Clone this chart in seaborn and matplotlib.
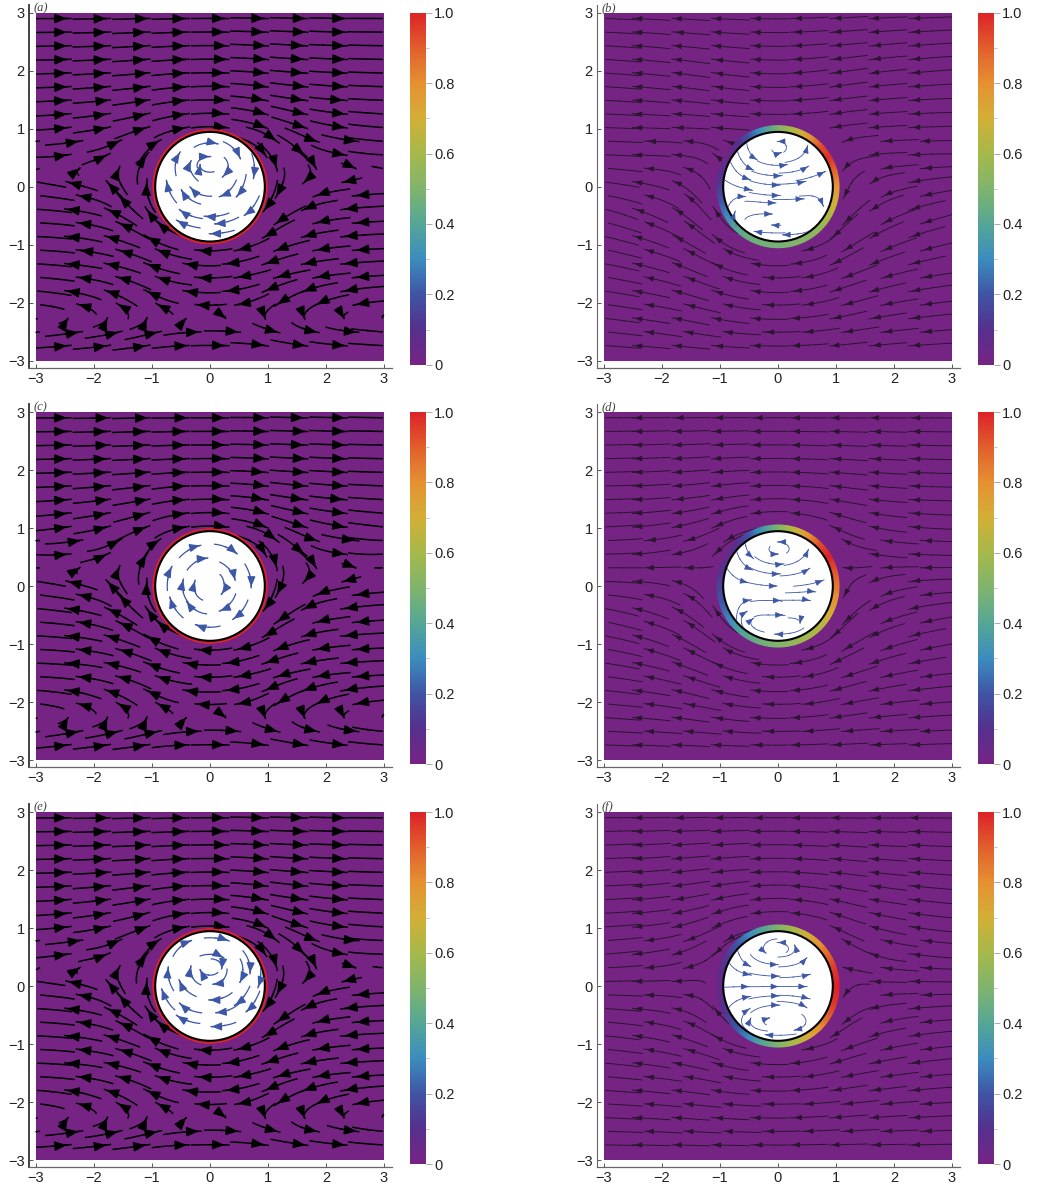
import numpy as np
import matplotlib
matplotlib.use("Agg")
import matplotlib.pyplot as plt
from matplotlib.colors import LinearSegmentedColormap
from matplotlib.patches import Circle
import seaborn as sns

# flow directions in degrees
# rows go from y=3 down to y=-3, columns from x=-3 to x=3, step 0.5
outer_a = [
    [0, 0, 1, 1, 1, 1, 0, -1, -1, -1, -1, 0, 0],
    [1, 1, 2, 3, 3, 2, 0, -2, -3, -3, -2, -1, -1],
    [1, 2, 3, 4, 5, 3, 0, -3, -5, -4, -3, -2, -1],
    [2, 3, 5, 7, 9, 6, 0, -6, -10, -8, -5, -3, -2],
    [3, 6, 9, 14, 18, 12, 0, -12, -22, -20, -12, -7, -4],
    [0, 8, 15, 45, 60, 30, 0, -30, -60, -50, -15, -8, -2],
    [172, 170, 162, 120, 85, 80, 0, -80, -95, -140, 192, 186, 183],
    [178, 174, 168, 150, 130, 150, 180, 210, 225, 205, 190, 185, 182],
    [178, 175, 170, 162, 155, 165, 180, 195, 205, 195, 188, 184, 182],
    [176, 174, 172, 165, 160, 170, 180, 190, 195, 192, 187, 185, 183],
    [175, 170, 160, 150, 150, 170, 180, 190, 210, 210, 200, 190, 185],
    [5, 8, 10, 15, 15, 5, 0, -5, -15, -15, -10, -5, -5],
    [2, 2, 3, 2, 1, 0, 0, 0, -1, -1, -2, -2, -2],
]
outer_c = [
    [0, 0, 1, 1, 1, 0, 0, 0, -1, -1, -1, -1, -1],
    [1, 1, 2, 2, 2, 1, 0, -1, -2, -2, -2, -1, -1],
    [1, 2, 3, 3, 4, 2, 0, -2, -4, -3, -3, -2, -1],
    [3, 4, 6, 8, 10, 5, 0, -5, -10, -8, -6, -4, -3],
    [6, 8, 12, 18, 22, 12, 0, -12, -22, -20, -12, -8, -6],
    [-5, 5, 12, 45, 65, 30, 0, -30, -65, -50, -12, -5, 5],
    [172, 170, 162, 120, 85, 80, 0, -80, -95, -135, 195, 188, 184],
    [176, 173, 167, 150, 130, 150, 180, 210, 225, 207, 190, 186, 183],
    [178, 175, 170, 162, 155, 165, 180, 195, 205, 195, 188, 184, 182],
    [178, 176, 172, 166, 160, 170, 180, 190, 196, 192, 187, 184, 182],
    [175, 170, 160, 150, 150, 170, 180, 190, 210, 210, 200, 190, 185],
    [8, 10, 12, 15, 15, 5, 0, -5, -15, -15, -12, -8, -5],
    [3, 3, 3, 2, 1, 0, 0, 0, -1, -2, -3, -3, -3],
]
outer_e = [
    [0, 0, 1, 1, 1, 1, 0, -1, -1, -1, -1, 0, 0],
    [1, 1, 2, 2, 3, 2, 0, -2, -3, -2, -2, -1, -1],
    [1, 2, 3, 4, 5, 3, 0, -3, -5, -4, -3, -2, -1],
    [2, 4, 6, 8, 10, 6, 0, -6, -10, -8, -6, -3, -2],
    [4, 6, 10, 15, 22, 12, 0, -12, -25, -20, -10, -5, -3],
    [5, 8, 10, 40, 60, 30, 0, -30, -60, -55, -20, -5, 0],
    [174, 172, 162, 115, 85, 80, 0, -80, -95, -135, 195, 186, 183],
    [178, 174, 168, 150, 130, 150, 180, 210, 225, 207, 190, 185, 182],
    [178, 175, 170, 162, 155, 165, 180, 195, 205, 195, 188, 184, 182],
    [178, 176, 172, 166, 160, 170, 180, 190, 196, 192, 187, 184, 182],
    [175, 170, 160, 150, 150, 170, 180, 190, 210, 210, 200, 190, 185],
    [5, 8, 10, 15, 15, 5, 0, -5, -15, -15, -10, -8, -5],
    [2, 2, 3, 2, 1, 0, 0, 0, -1, -1, -2, -2, -2],
]
outer_b = [
    [178, 178, 177, 177, 178, 178, 180, 182, 183, 183, 182, 182, 182],
    [177, 176, 175, 175, 175, 177, 180, 183, 185, 185, 185, 184, 183],
    [176, 175, 174, 172, 172, 175, 180, 185, 188, 188, 186, 185, 184],
    [177, 176, 175, 174, 172, 176, 180, 184, 188, 186, 184, 183, 182],
    [178, 178, 178, 178, 175, 178, 180, 183, 190, 185, 183, 182, 181],
    [178, 177, 178, 170, 135, 150, 180, 210, 225, 190, 182, 182, 180],
    [172, 170, 165, 140, 100, 120, 180, 240, 260, 225, 195, 190, 188],
    [165, 160, 155, 140, 125, 140, 180, 220, 235, 215, 205, 198, 195],
    [168, 165, 160, 150, 145, 165, 180, 195, 215, 210, 202, 197, 193],
    [170, 168, 165, 158, 158, 170, 180, 190, 202, 200, 195, 190, 188],
    [172, 171, 170, 165, 165, 172, 180, 188, 195, 195, 190, 188, 186],
    [174, 173, 172, 170, 172, 176, 180, 184, 188, 188, 186, 185, 184],
    [178, 178, 177, 177, 178, 179, 180, 181, 182, 183, 183, 182, 182],
]
outer_d = [
    [180, 180, 180, 180, 180, 180, 180, 180, 180, 180, 180, 180, 180],
    [181, 181, 182, 182, 182, 181, 180, 179, 178, 178, 178, 179, 179],
    [181, 182, 183, 184, 184, 182, 180, 178, 176, 176, 177, 178, 179],
    [181, 182, 184, 187, 190, 185, 180, 175, 170, 173, 176, 178, 179],
    [182, 184, 188, 195, 205, 195, 180, 165, 155, 165, 172, 176, 178],
    [180, 183, 188, 195, 230, 210, 180, 150, 130, 170, 175, 178, 179],
    [178, 175, 170, 150, 100, 120, 180, 240, 260, 215, 195, 185, 182],
    [168, 165, 160, 145, 125, 140, 180, 220, 235, 215, 198, 192, 188],
    [170, 166, 160, 150, 145, 165, 180, 195, 215, 208, 198, 193, 190],
    [173, 170, 167, 160, 160, 170, 180, 190, 200, 197, 192, 188, 186],
    [175, 174, 172, 168, 168, 174, 180, 186, 192, 190, 187, 185, 184],
    [177, 177, 176, 175, 175, 177, 180, 183, 185, 184, 183, 183, 182],
    [179, 179, 179, 179, 179, 180, 180, 180, 181, 181, 181, 181, 181],
]
outer_f = [
    [180, 180, 180, 180, 180, 180, 180, 180, 180, 180, 180, 180, 180],
    [182, 182, 183, 183, 183, 182, 180, 178, 177, 177, 178, 178, 178],
    [182, 183, 185, 186, 186, 183, 180, 177, 174, 174, 175, 176, 177],
    [182, 184, 186, 190, 193, 187, 180, 173, 167, 170, 172, 174, 175],
    [183, 185, 188, 198, 205, 192, 180, 168, 155, 162, 168, 172, 175],
    [184, 186, 190, 205, 230, 210, 180, 150, 130, 155, 170, 174, 176],
    [180, 180, 180, 180, 100, 120, 180, 240, 260, 180, 180, 180, 180],
    [176, 174, 170, 155, 130, 150, 180, 210, 230, 205, 190, 186, 184],
    [175, 172, 168, 162, 155, 168, 180, 192, 205, 198, 192, 188, 185],
    [175, 174, 172, 170, 167, 173, 180, 187, 193, 190, 188, 186, 185],
    [177, 176, 175, 174, 174, 177, 180, 183, 186, 186, 185, 184, 183],
    [178, 178, 177, 177, 177, 178, 180, 182, 183, 183, 182, 182, 182],
    [180, 180, 180, 180, 180, 180, 180, 180, 180, 180, 180, 180, 180],
]

# inside the disc: rows y=1 down to y=-1, columns x=-1 to x=1, step 0.25
inner_a = [
    [55, 45, 30, 15, 0, -15, -30, -45, -55],
    [65, 60, 45, 25, 0, -25, -45, -60, -65],
    [80, 75, 65, 45, 0, -45, -65, -75, -80],
    [95, 95, 100, 125, 180, -125, -100, -95, -95],
    [105, 105, 115, 140, 180, -140, -115, -105, -105],
    [115, 120, 135, 155, 180, -155, -135, -120, -115],
    [130, 135, 150, 165, 180, -165, -150, -135, -130],
    [145, 150, 160, 170, 180, -170, -160, -150, -145],
    [160, 165, 170, 175, 180, -175, -170, -165, -160],
]
inner_c = [
    [45, 37, 27, 14, 0, -14, -27, -37, -45],
    [53, 45, 34, 18, 0, -18, -34, -45, -53],
    [63, 56, 45, 27, 0, -27, -45, -56, -63],
    [76, 72, 63, 45, 0, -45, -63, -72, -76],
    [90, 90, 90, 90, 180, -90, -90, -90, -90],
    [104, 108, 117, 135, 180, -135, -117, -108, -104],
    [117, 124, 135, 153, 180, -153, -135, -124, -117],
    [127, 135, 146, 162, 180, -162, -146, -135, -127],
    [135, 143, 153, 166, 180, -166, -153, -143, -135],
]
inner_e = [
    [40, 30, 20, 10, 0, -10, -20, -30, -40],
    [60, 50, 35, 15, 0, -15, -35, -50, -60],
    [75, 70, 55, 30, 0, -30, -55, -70, -75],
    [90, 90, 95, 100, 180, -100, -95, -90, -90],
    [105, 110, 125, 150, 180, -150, -125, -110, -105],
    [115, 120, 135, 160, 180, -160, -135, -120, -115],
    [130, 135, 150, 168, 180, -168, -150, -135, -130],
    [145, 150, 160, 172, 180, -172, -160, -150, -145],
    [160, 165, 170, 175, 180, -175, -170, -165, -160],
]
inner_b = [
    [180, 180, 180, 180, 180, 180, 180, 180, 180],
    [-90, -90, -80, -100, 180, 90, 80, 80, 80],
    [-70, -70, -50, -20, 0, 20, 45, 70, 70],
    [-60, -50, -25, -10, 0, 10, 20, 25, 25],
    [-20, -20, -15, -8, 0, 5, 8, 10, 15],
    [70, 40, -5, -5, 0, 2, 0, -60, -80],
    [85, 85, 20, 0, 0, 0, -20, -80, -85],
    [110, 130, 165, 175, 180, 185, 200, 235, 250],
    [180, 180, 180, 180, 180, 180, 180, 180, 180],
]
inner_d = [
    [180, 180, 180, 180, 180, 180, 180, 180, 180],
    [-90, -90, -80, -130, 180, 130, 80, 80, 80],
    [-70, -70, -50, -25, 0, 25, 50, 75, 75],
    [-60, -50, -25, -12, 0, 12, 25, 35, 35],
    [-15, -15, -10, -6, 0, 5, 8, 12, 15],
    [90, 70, 10, 0, 0, 0, 0, -70, -90],
    [90, 90, 30, 0, 0, 0, -20, -70, -90],
    [110, 120, 140, 165, 180, 195, 220, 240, 250],
    [180, 180, 180, 180, 180, 180, 180, 180, 180],
]
inner_f = [
    [180, 180, 180, 180, 180, 180, 180, 180, 180],
    [-90, -90, -80, -130, 180, 130, 80, 80, 80],
    [-75, -70, -50, -20, 0, 20, 50, 70, 75],
    [-45, -30, -15, -8, 0, 8, 15, 30, 45],
    [0, 0, 0, 0, 0, 0, 0, 0, 0],
    [45, 30, 15, 8, 0, -8, -15, -30, -45],
    [75, 70, 50, 20, 0, -20, -50, -70, -75],
    [105, 125, 150, 170, 180, 190, 210, 235, 255],
    [180, 180, 180, 180, 180, 180, 180, 180, 180],
]

# where the arrows sit inside each disc
arrows_a = [(.13, .74), (-.52, .59), (.52, .49), (-.33, .44), (-.17, .38), (.75, .15), (.22, .17), (-.75, .10), (-.49, -.06), (-.34, -.01), (.46, -.17), (.17, -.17), (-.52, -.40), (.60, -.49), (-.09, -.51), (.09, -.64), (-.57, -.58), (0, -.81), (0, .52)]
arrows_b = [(.06, .59), (.51, .70), (-.37, .47), (.15, .38), (-.43, .29), (.06, .19), (.52, .35), (-.48, .12), (.03, .03), (.47, .09), (-.45, -.06), (.03, -.15), (.81, .26), (-.57, -.17), (-.05, -.28), (.44, -.21), (.78, -.33), (-.74, -.43), (-.11, -.47), (-.40, -.77), (.09, -.83), (0, .78), (-.11, -.66)]
arrows_c = [(-.17, .70), (.46, .56), (-.66, .33), (-.05, .48), (.43, .11), (-.46, .11), (.71, -.02), (-.26, .09), (.20, -.14), (-.69, -.2), (-.40, -.27), (.17, -.43), (.40, -.57), (-.24, -.67)]
arrows_d = [(0, .55), (.52, .62), (-.43, .48), (.09, .38), (.54, .30), (-.45, .28), (.03, .21), (-.53, .06), (-.03, 0), (.78, .10), (.64, -.1), (-.47, -.24), (.05, -.25), (.55, -.25), (-.54, -.44), (.09, -.5), (-.43, -.56), (-.05, -.83), (.38, -.64), (0, .76)]
arrows_e = [(.32, .78), (-.33, .78), (.23, .49), (-.72, .32), (-.33, .34), (.20, .30), (-.17, .28), (.69, .22), (.06, .03), (-.53, .10), (.52, .07), (-.01, -.24), (.83, -.02), (-.83, -.06), (-.52, -.30), (.43, -.33), (.63, -.44), (.11, -.46), (-.57, -.51), (.03, -.70)]
arrows_f = [(0, .75), (-.21, .57), (.29, .70), (.49, .48), (-.48, .34), (-.01, .37), (-.47, .19), (.02, .17), (.55, .20), (-.51, -.01), (0, -.01), (.49, -.01), (-.48, -.18), (.02, -.17), (.54, -.22), (-.49, -.39), (.02, -.33), (.49, -.37), (-.15, -.55), (.29, -.76), (-.21, -.84), (-.47, -.56)]

# ring value every 15 degrees, counter-clockwise from the +x direction
ring_a = [1.0] * 24
ring_c = [1.0] * 24
ring_e = [1.0] * 24
ring_b = [.78, .88, .98, .92, .75, .62, .5, .35, .2, .08, .03, .08, .13, .2, .3, .4, .45, .47, .48, .5, .52, .55, .62, .7]
ring_d = [.85, .92, 1.0, .93, .78, .65, .5, .35, .2, .1, .06, .1, .15, .2, .27, .36, .42, .47, .5, .55, .6, .63, .7, .78]
ring_f = [1.0, .97, .9, .8, .7, .6, .5, .4, .3, .2, .13, .08, .05, .08, .13, .2, .3, .4, .5, .6, .7, .8, .9, .97]

tick_vals = [-3, -2, -1, 0, 1, 2, 3]
cbar_ticks = [0, 0.2, 0.4, 0.6, 0.8, 1.0]
cbar_labels = ["0", "0.2", "0.4", "0.6", "0.8", "1.0"]
cmap_colors = ["#762484", "#55308d", "#3f55a4", "#3c8dbf", "#55a695", "#7fb46d",
               "#a5b94a", "#d2af37", "#e69132", "#e15f2d", "#dc2328"]

W, H = 1039, 1195
UNIT = 58.0

sns.set_theme(style="ticks", font="Liberation Sans")
plt.rcParams["font.family"] = ["Liberation Sans", "DejaVu Sans"]
cmap = LinearSegmentedColormap.from_list("flow", cmap_colors)


def px_axes(fig, left, top, w, h):
    return fig.add_axes([left / W, 1 - (top + h) / H, w / W, h / H])


def to_uv(table):
    ang = np.radians(np.array(table, dtype=float))[::-1]
    return np.cos(ang), np.sin(ang)


def flow(ax, xs, u, v, seeds, color, lw, head, tail, zorder):
    # line running back from each arrow, then a tiny piece that only carries the head
    line_set = ax.streamplot(xs, xs, u, v, start_points=seeds, color=color, linewidth=lw, arrowstyle="-",
                             density=2, minlength=0.005, maxlength=tail,
                             integration_direction="backward", broken_streamlines=False, zorder=zorder)
    # no heads on seeds that sit right on the field edge
    head_seeds = [s for s in seeds if abs(s[0]) < 2.8]
    ax.streamplot(xs, xs, u, v, start_points=head_seeds, color=color, linewidth=lw, arrowsize=head,
                  arrowstyle="-|>,head_length=.55,head_width=.22", density=6, minlength=0.0005,
                  maxlength=0.03, integration_direction="both", broken_streamlines=False, zorder=zorder)
    return line_set


def draw_panel(fig, left, top, cbar_left, name, outer, inner, seeds, ring):
    thin = name in ("b", "d", "f")

    bg = px_axes(fig, left, top, 6 * UNIT, 6 * UNIT)
    cax = px_axes(fig, cbar_left, top, 16, 352)
    sns.heatmap(np.zeros((2, 2)), ax=bg, cbar_ax=cax, cmap=cmap, vmin=0, vmax=1,
                xticklabels=False, yticklabels=False)
    bg.tick_params(left=False, bottom=False)
    cbar = bg.collections[0].colorbar
    cbar.set_ticks(cbar_ticks, labels=cbar_labels)
    cbar.set_ticks(np.arange(0.1, 1.0, 0.2), minor=True)
    cbar.outline.set_visible(False)
    cax.tick_params(which="major", length=4, width=0.7, color="#aaaaaa", labelsize=10.5,
                    labelcolor="#222222", pad=2)
    cax.tick_params(which="minor", length=2, width=0.5, color="#aaaaaa")

    ax = px_axes(fig, left - 0.12 * UNIT, top - 0.13 * UNIT, 6.25 * UNIT, 6.25 * UNIT)
    ax.patch.set_alpha(0)
    ax.set_xlim(-3.12, 3.13)
    ax.set_ylim(-3.12, 3.13)

    # outer flow, seeds clipped to the field so the rows reach both edges
    grid = np.linspace(-3, 3, 13)
    u, v = to_uv(outer)
    start = []
    for i, yy in enumerate(np.arange(2.9, -2.95, -0.235)):
        shift = 0.2 * (i % 2) if yy < 1 else 0
        for xx in np.arange(-3.13, 3.1, 0.68):
            sx = float(np.clip(xx + shift, -2.98, 2.98))
            if np.hypot(sx, yy) > (1.12 if thin else 1.02):
                start.append((sx, yy))
    if thin:
        flow(ax, grid, u, v, start, "#2b1530", 0.7, 0.72, 0.11, 2)
    else:
        flow(ax, grid, u, v, start, "black", 1.1, 1.3, 0.105, 2)

    # coloured ring round the disc
    outer_r = 1.052 if thin else 0.985
    knots = np.arange(0, 361, 15)
    vals = np.array(ring + ring[:1])
    fine = np.arange(0, 361, 3)
    theta = np.radians(fine)
    fine_vals = np.interp(fine, knots, vals)
    radii = np.array([0.93, outer_r])
    rr, tt = np.meshgrid(radii, theta)
    ax.pcolormesh(rr * np.cos(tt), rr * np.sin(tt), np.column_stack([fine_vals, fine_vals]),
                  cmap=cmap, vmin=0, vmax=1, shading="gouraud", zorder=3)

    disc = Circle((0, 0), 0.945, facecolor="white", edgecolor="black", linewidth=1.5, zorder=4)
    ax.add_patch(disc)

    # flow inside the disc
    inside = np.linspace(-1, 1, 9)
    ui, vi = to_uv(inner)
    if thin:
        st = flow(ax, inside, ui, vi, seeds, "#3d57a7", 0.6, 0.8, 0.27, 5)
    else:
        st = flow(ax, inside, ui, vi, seeds, "#3d57a7", 0.9, 1.1, 0.22, 5)
    st.lines.set_clip_path(Circle((0, 0), 0.93, transform=ax.transData))

    sns.despine(ax=ax)
    ax.set_xticks(tick_vals, labels=[str(t).replace("-", "\u2212") for t in tick_vals])
    ax.set_yticks(tick_vals, labels=[str(t).replace("-", "\u2212") for t in tick_vals])
    edge = "#666666" if thin else "#333333"
    ax.spines["left"].set_color(edge)
    ax.spines["bottom"].set_color("#666666")
    ax.spines["left"].set_linewidth(0.8 if thin else 1.3)
    ax.spines["bottom"].set_linewidth(0.9)
    ax.tick_params(direction="in", length=3, width=0.7, color="#555555", labelsize=10.5,
                   labelcolor="#222222", pad=3)
    ax.text(-3.05, 3.03, f"({name})", family="Liberation Serif", style="italic", fontsize=9,
            color="#444444", zorder=6)


fig = plt.figure(figsize=(W / 100, H / 100), dpi=100, facecolor="white")

draw_panel(fig, 36, 12.7, 410, "a", outer_a, inner_a, arrows_a, ring_a)
draw_panel(fig, 604, 12.7, 978, "b", outer_b, inner_b, arrows_b, ring_b)
draw_panel(fig, 36, 412, 410, "c", outer_c, inner_c, arrows_c, ring_c)
draw_panel(fig, 604, 412, 978, "d", outer_d, inner_d, arrows_d, ring_d)
draw_panel(fig, 36, 812, 410, "e", outer_e, inner_e, arrows_e, ring_e)
draw_panel(fig, 604, 812, 978, "f", outer_f, inner_f, arrows_f, ring_f)

fig.savefig("out.png", dpi=100)
